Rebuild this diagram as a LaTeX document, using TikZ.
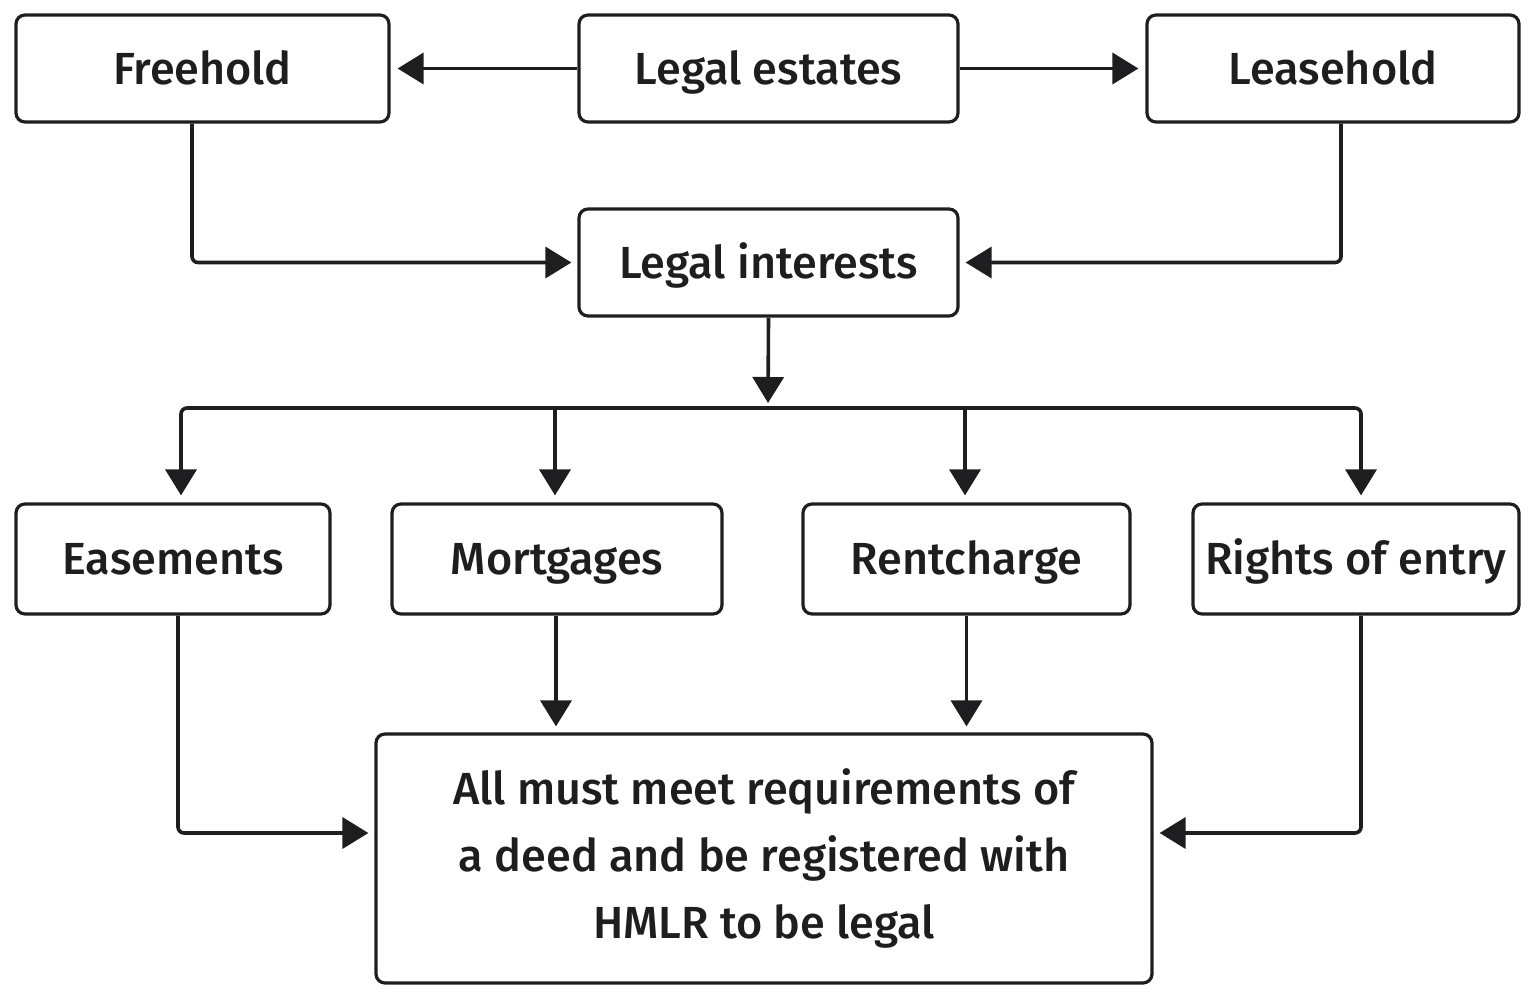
\documentclass[tikz,border=0pt]{standalone}
\usepackage{fontspec}
\setmainfont{Fira Sans}[UprightFont=* Medium]
\usetikzlibrary{arrows.meta}
\definecolor{ink}{HTML}{1E1E21}
\tikzset{
  box/.style={draw=ink, line width=3.2pt, rounded corners=9pt, align=center, text=ink,
    font=\fontsize{45}{67}\selectfont, inner sep=0pt},
  onel/.style={text height=31pt, text depth=0pt},
  arr/.style={draw=ink, line width=3.6pt, rounded corners=6pt,
    -{Triangle[length=26pt,width=31pt]}},
}
\begin{document}
\begin{tikzpicture}[x=1pt,y=-1pt]
\useasboundingbox (0,0) rectangle (1536,1002);
\node[box, onel, minimum width=373pt, minimum height=107pt] (free) at (202.5,68.5) {Freehold};
\node[box, onel, minimum width=379pt, minimum height=107pt] (est) at (768.5,68.5) {Legal estates};
\node[box, onel, minimum width=372pt, minimum height=107pt] (lease) at (1333,68.5) {Leasehold};
\node[box, onel, minimum width=379pt, minimum height=107pt] (int) at (768.5,262.5) {Legal interests};
\node[box, onel, minimum width=314pt, minimum height=110pt] (ease) at (173,559) {Easements};
\node[box, onel, minimum width=330pt, minimum height=110pt] (mort) at (557,559) {Mortgages};
\node[box, onel, minimum width=327pt, minimum height=110pt] (rent) at (966.5,559) {Rentcharge};
\node[box, onel, minimum width=326pt, minimum height=110pt] (rights) at (1356,559) {Rights of entry};
\node[box, minimum width=776pt, minimum height=249pt] (bot) at (764,858.5) {All must meet requirements of\\a deed and be registered with\\HMLR to be legal};
\coordinate (bj) at (768,408);
\coordinate (bm) at (555,408);
\coordinate (br) at (965,408);

\draw[arr, shorten >=7pt] (est.west) -- (free.east);
\draw[arr, shorten >=7pt] (est.east) -- (lease.east -| lease.west);
\draw[arr, shorten >=6pt] ([xshift=-10.5pt]free.south) |- (int.west);
\draw[arr, shorten >=6pt] ([xshift=8pt]lease.south) |- (int.east);
\draw[arr, shorten >=5pt] (int.south) -- (bj);
\draw[arr, shorten >=7pt] (bj) -| ([xshift=8pt]ease.north);
\draw[arr, shorten >=7pt] (bj) -| ([xshift=5pt]rights.north);
\draw[arr, shorten >=7pt] (bm) -- (bm |- mort.north);
\draw[arr, shorten >=7pt] (br) -- (br |- rent.north);
\draw[arr, shorten >=6pt] ([xshift=5pt]ease.south) |- ([yshift=25.5pt]bot.west);
\draw[arr, shorten >=6pt] ([xshift=-1pt]mort.south) -- ([xshift=-1pt]mort.south |- bot.north);
\draw[arr, shorten >=6pt] (rent.south) -- (rent.south |- bot.north);
\draw[arr, shorten >=6pt] ([xshift=5pt]rights.south) |- ([yshift=25.5pt]bot.east);
\end{tikzpicture}
\end{document}
